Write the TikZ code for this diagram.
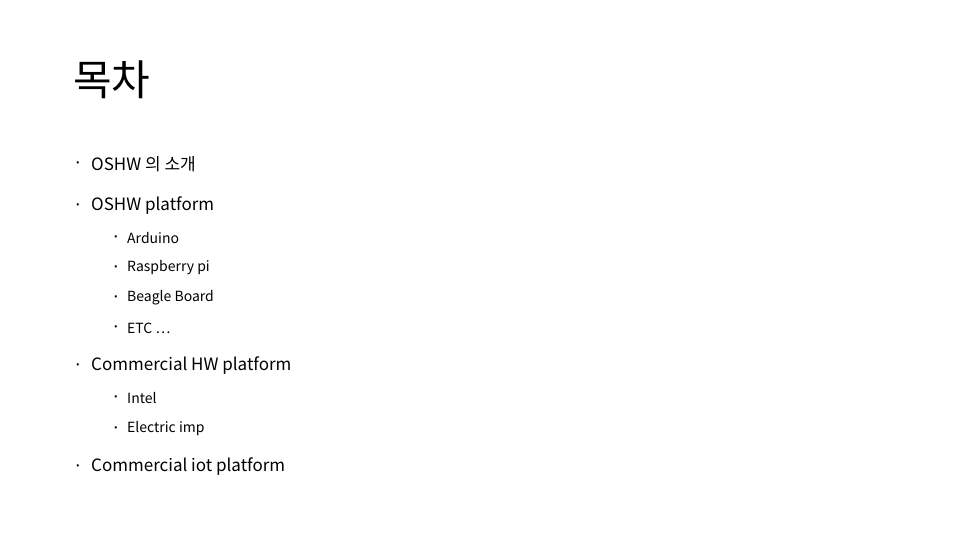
\documentclass[tikz,border=0pt]{standalone}
\usepackage{fontspec}
\setmainfont{Noto Sans CJK KR}
\begin{document}
\begin{tikzpicture}[x=1pt,y=1pt,
  lone/.style={anchor=west,inner sep=0pt,font=\fontsize{17}{20}\selectfont},
  ltwo/.style={anchor=west,inner sep=0pt,font=\fontsize{14}{17}\selectfont},
  bul/.style={anchor=center,inner sep=0pt,font=\fontsize{9}{10}\selectfont}]
\useasboundingbox (0,0) rectangle (960,540);
\node[anchor=west,inner sep=0pt,font=\fontsize{42}{48}\selectfont] (title) at (73,460) {목차};
\foreach \n/\y/\t in {a/164/{OSHW 의 소개},b/206/{OSHW platform},c/366/{Commercial  HW platform},d/467/{Commercial  iot platform}}{
  \node[bul] (b\n) at (78,540-\y) {•};
  \node[lone] (t\n) at (91,540-\y) {\t};
}
\foreach \n/\y/\t in {e/238/{Arduino},f/268/{Raspberry pi},g/298/{Beagle Board},h/328/{ETC …},i/398/{Intel},j/429/{Electric imp}}{
  \node[bul] (b\n) at (116,540-\y) {•};
  \node[ltwo] (t\n) at (127,540-\y) {\t};
}
\end{tikzpicture}
\end{document}
